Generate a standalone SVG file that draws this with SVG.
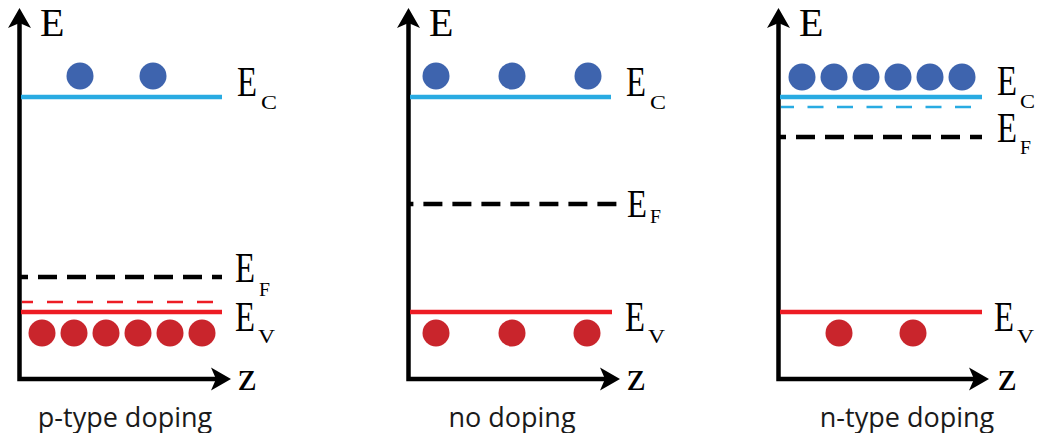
<svg xmlns="http://www.w3.org/2000/svg" width="1038" height="433" viewBox="0 0 1038 433">
<style>
.axis{fill:none;stroke:#000;stroke-width:4.5;stroke-linejoin:miter}
.head{fill:#000}
.ec{stroke:#29abe2;stroke-width:4.5}
.ev{stroke:#ed1c24;stroke-width:4.5}
.ef{stroke:#000;stroke-width:4.5;stroke-dasharray:19 10}
.ecd{stroke:#29abe2;stroke-width:2.5;stroke-dasharray:16 13.5}
.evd{stroke:#ed1c24;stroke-width:2.5;stroke-dasharray:16 14}
.el{fill:#3e64ae}
.ho{fill:#c9252c}
.lab{font-family:"Liberation Serif","Times New Roman",serif;fill:#000}
.sub{font-family:"Liberation Serif","Times New Roman",serif;fill:#000;font-size:19px}
.cap{font-family:"Open Sans","Noto Sans",sans-serif;font-size:27px;fill:#1a1a1a;text-anchor:middle}
</style>
<defs>
<path id="vh" d="M0,0 L-11.5,20 L0,15 L11.5,20 Z"/>
<path id="hh" d="M0,0 L-20,-11.5 L-15,0 L-20,11.5 Z"/>
</defs>

<g id="panel-p">
<g id="axes-p">
<polyline class="axis" points="19.5,22 19.5,379 216,379"/>
<use href="#vh" x="19.5" y="8" class="head"/>
<use href="#hh" x="231" y="379" class="head"/>
<text class="lab" x="40" y="36" font-size="40">E</text>
<text class="lab" x="238" y="390" font-size="41">z</text>
</g>
<g id="ec-p">
<line class="ec" x1="21" y1="97" x2="222" y2="97"/>
<circle class="el" cx="80" cy="76" r="13.5"/>
<circle class="el" cx="153" cy="76" r="13.5"/>
<text class="lab" x="237" y="96" font-size="42" textLength="20" lengthAdjust="spacingAndGlyphs">E</text>
<text class="sub" x="261" y="109" textLength="16" lengthAdjust="spacingAndGlyphs">C</text>
</g>
<g id="ef-p">
<line class="ef" x1="21" y1="277" x2="222" y2="277" stroke-dashoffset="12"/>
<text class="lab" x="235" y="282" font-size="42" textLength="20" lengthAdjust="spacingAndGlyphs">E</text>
<text class="sub" x="259" y="296" textLength="11" lengthAdjust="spacingAndGlyphs">F</text>
</g>
<g id="ev-p">
<line class="evd" x1="22" y1="302" x2="213" y2="302" stroke-dashoffset="5"/>
<line class="ev" x1="21" y1="312" x2="222" y2="312"/>
<circle class="ho" cx="42" cy="333" r="13.5"/>
<circle class="ho" cx="74" cy="333" r="13.5"/>
<circle class="ho" cx="106" cy="333" r="13.5"/>
<circle class="ho" cx="138" cy="333" r="13.5"/>
<circle class="ho" cx="170" cy="333" r="13.5"/>
<circle class="ho" cx="202" cy="333" r="13.5"/>
<text class="lab" x="235" y="331" font-size="42" textLength="20" lengthAdjust="spacingAndGlyphs">E</text>
<text class="sub" x="258" y="343" font-size="20" textLength="17" lengthAdjust="spacingAndGlyphs">V</text>
</g>
<text class="cap" x="125" y="427">p-type doping</text>
</g>

<g id="panel-i">
<g id="axes-i">
<polyline class="axis" points="408.5,22 408.5,379 605,379"/>
<use href="#vh" x="408.5" y="8" class="head"/>
<use href="#hh" x="620" y="379" class="head"/>
<text class="lab" x="429" y="36" font-size="40">E</text>
<text class="lab" x="627" y="390" font-size="41">z</text>
</g>
<g id="ec-i">
<line class="ec" x1="410" y1="97" x2="611" y2="97"/>
<circle class="el" cx="436" cy="76" r="13.5"/>
<circle class="el" cx="512" cy="76" r="13.5"/>
<circle class="el" cx="588" cy="76" r="13.5"/>
<text class="lab" x="626" y="96" font-size="42" textLength="20" lengthAdjust="spacingAndGlyphs">E</text>
<text class="sub" x="650" y="109" textLength="16" lengthAdjust="spacingAndGlyphs">C</text>
</g>
<g id="ef-i">
<line class="ef" x1="410" y1="204" x2="618" y2="204" stroke-dasharray="19 9.7" stroke-dashoffset="15.6"/>
<text class="lab" x="627" y="217" font-size="40" textLength="20" lengthAdjust="spacingAndGlyphs">E</text>
<text class="sub" x="650" y="223" textLength="11" lengthAdjust="spacingAndGlyphs">F</text>
</g>
<g id="ev-i">
<line class="ev" x1="410" y1="312" x2="612" y2="312"/>
<circle class="ho" cx="436" cy="333" r="13.5"/>
<circle class="ho" cx="512" cy="333" r="13.5"/>
<circle class="ho" cx="587" cy="333" r="13.5"/>
<text class="lab" x="625" y="331" font-size="42" textLength="20" lengthAdjust="spacingAndGlyphs">E</text>
<text class="sub" x="648" y="343" font-size="20" textLength="17" lengthAdjust="spacingAndGlyphs">V</text>
</g>
<text class="cap" x="512" y="427">no doping</text>
</g>

<g id="panel-n">
<g id="axes-n">
<polyline class="axis" points="778.5,22 778.5,379 975,379"/>
<use href="#vh" x="778.5" y="8" class="head"/>
<use href="#hh" x="989" y="379" class="head"/>
<text class="lab" x="799" y="36" font-size="40">E</text>
<text class="lab" x="998" y="390" font-size="41">z</text>
</g>
<g id="ec-n">
<line class="ec" x1="780" y1="97" x2="982" y2="97"/>
<line class="ecd" x1="781" y1="107" x2="972" y2="107" stroke-dashoffset="3"/>
<circle class="el" cx="802" cy="77" r="13.5"/>
<circle class="el" cx="834" cy="77" r="13.5"/>
<circle class="el" cx="866" cy="77" r="13.5"/>
<circle class="el" cx="898" cy="77" r="13.5"/>
<circle class="el" cx="930" cy="77" r="13.5"/>
<circle class="el" cx="962" cy="77" r="13.5"/>
<text class="lab" x="997" y="95" font-size="42" textLength="20" lengthAdjust="spacingAndGlyphs">E</text>
<text class="sub" x="1020" y="108" textLength="15" lengthAdjust="spacingAndGlyphs">C</text>
</g>
<g id="ef-n">
<line class="ef" x1="780" y1="137" x2="982" y2="137" stroke-dasharray="17 12" stroke-dashoffset="13"/>
<text class="lab" x="997" y="142" font-size="42" textLength="20" lengthAdjust="spacingAndGlyphs">E</text>
<text class="sub" x="1020" y="154" textLength="11" lengthAdjust="spacingAndGlyphs">F</text>
</g>
<g id="ev-n">
<line class="ev" x1="780" y1="312" x2="982" y2="312"/>
<circle class="ho" cx="839" cy="333" r="13.5"/>
<circle class="ho" cx="913" cy="333" r="13.5"/>
<text class="lab" x="994" y="331" font-size="42" textLength="20" lengthAdjust="spacingAndGlyphs">E</text>
<text class="sub" x="1017" y="343" font-size="20" textLength="17" lengthAdjust="spacingAndGlyphs">V</text>
</g>
<text class="cap" x="907" y="427">n-type doping</text>
</g>
</svg>
